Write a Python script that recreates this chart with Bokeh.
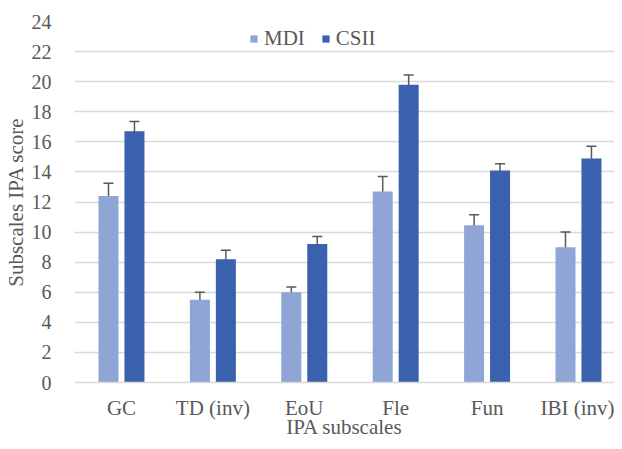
from bokeh.plotting import figure
from bokeh.models import ColumnDataSource, Whisker, Legend, LegendItem, Range1d, FixedTicker, SingleIntervalTicker
from bokeh.transform import dodge
from bokeh.embed import file_html
from bokeh.resources import INLINE

categories = ["GC", "TD (inv)", "EoU", "Fle", "Fun", "IBI (inv)"]
mdi = [12.4, 5.5, 6.0, 12.7, 10.45, 9.0]
mdi_err = [0.85, 0.5, 0.35, 1.0, 0.7, 1.0]
csii = [16.7, 8.2, 9.2, 19.8, 14.1, 14.9]
csii_err = [0.65, 0.6, 0.5, 0.65, 0.45, 0.8]

FONT = "Liberation Serif"
TXT = "#595959"
MDI_C = "#8FA5D6"
CSII_C = "#3A61AE"

xpos = [i + 0.5 for i in range(len(categories))]
src = ColumnDataSource(dict(
    x=xpos, mdi=mdi, csii=csii,
    mdi_lo=[v - e for v, e in zip(mdi, mdi_err)],
    mdi_hi=[v + e for v, e in zip(mdi, mdi_err)],
    csii_lo=[v - e for v, e in zip(csii, csii_err)],
    csii_hi=[v + e for v, e in zip(csii, csii_err)],
))

p = figure(x_range=Range1d(-0.014, 5.894), y_range=Range1d(0, 24),
           width=614, height=441, output_backend="svg", toolbar_location=None,
           min_border_left=74, min_border_top=21, min_border_bottom=40, min_border_right=0)
p.outline_line_color = None

off = 0.142
w = 0.219
r1 = p.vbar(x=dodge("x", -off), top="mdi", width=w, source=src,
            fill_color=MDI_C, line_color=None)
r2 = p.vbar(x=dodge("x", off), top="csii", width=w, source=src,
            fill_color=CSII_C, line_color=None)

for base, lo, hi in [(-off, "mdi_lo", "mdi_hi"), (off, "csii_lo", "csii_hi")]:
    wh = Whisker(base=dodge("x", base), lower=lo, upper=hi, source=src,
                 line_color="#595959", line_width=1.5)
    for head in (wh.upper_head, wh.lower_head):
        head.line_color = "#595959"
        head.line_width = 1.5
        head.size = 10
    p.add_layout(wh)

p.yaxis.ticker = SingleIntervalTicker(interval=2)
p.xaxis.ticker = FixedTicker(ticks=xpos)
p.xaxis.major_label_overrides = {x: c for x, c in zip(xpos, categories)}
p.ygrid.grid_line_color = "#D9D9D9"
p.ygrid.grid_line_width = 1.3
p.xgrid.grid_line_color = None

for ax in (p.xaxis, p.yaxis):
    ax.major_tick_line_color = None
    ax.minor_tick_line_color = None
    ax.major_label_text_font = FONT
    ax.major_label_text_font_size = "21px"
    ax.major_label_text_color = TXT
    ax.axis_label_text_font = FONT
    ax.axis_label_text_font_size = "21px"
    ax.axis_label_text_font_style = "normal"
    ax.axis_label_text_color = TXT
p.yaxis.major_label_text_font_size = "20px"
p.yaxis.axis_line_color = None
p.xaxis.axis_line_color = "#D9D9D9"
p.xaxis.axis_line_width = 1.3
p.yaxis.major_label_standoff = 17
p.xaxis.major_label_standoff = 7
p.xaxis.axis_label = "IPA subscales"
p.yaxis.axis_label = "Subscales IPA score"
p.xaxis.axis_label_standoff = -8
p.yaxis.axis_label_standoff = 1

legend = Legend(items=[LegendItem(label="MDI", renderers=[r1]),
                       LegendItem(label="CSII", renderers=[r2])],
                orientation="horizontal", location=(175, 331),
                label_text_font=FONT, label_text_font_size="21px", label_text_color=TXT,
                glyph_width=9, glyph_height=9, spacing=16, padding=2, margin=0,
                label_standoff=6, border_line_color=None, background_fill_alpha=0)
p.add_layout(legend, "center")

open("out.html", "w").write(file_html(p, INLINE))
